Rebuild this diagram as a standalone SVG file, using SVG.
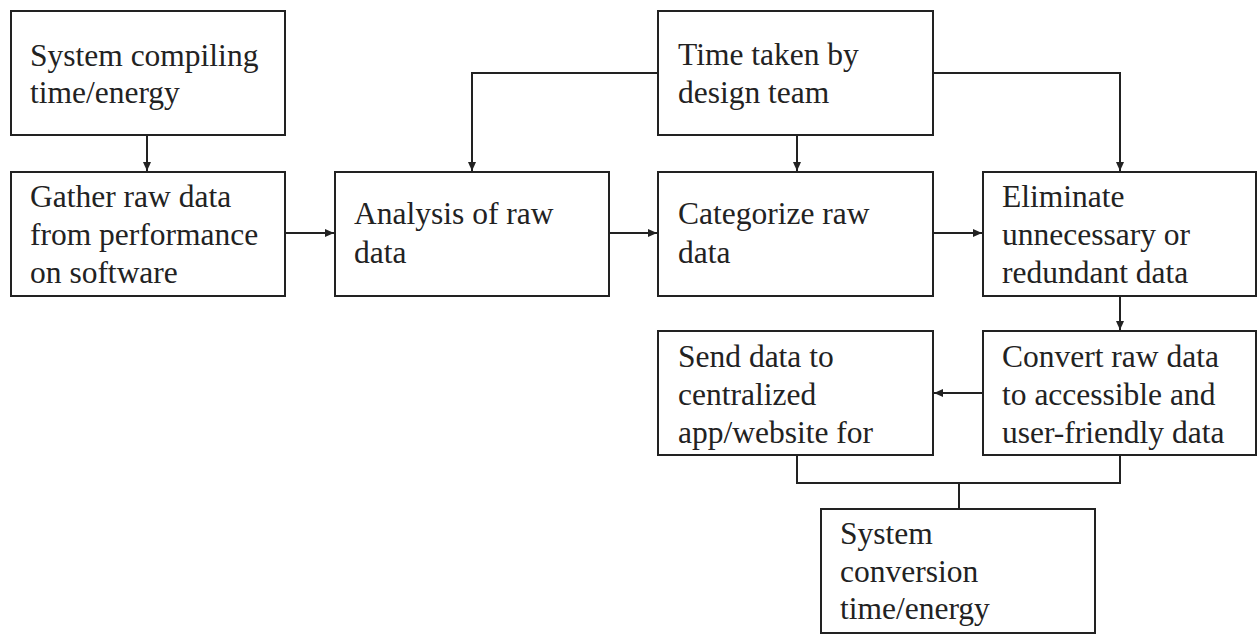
<svg xmlns="http://www.w3.org/2000/svg" width="1257" height="634" viewBox="0 0 1257 634">
  <style>
    .box { fill: #ffffff; stroke: #222222; stroke-width: 2; }
    .label { font-family: "Liberation Serif", "Times New Roman", serif; font-size: 31.5px; fill: #222222; }
    .wire { fill: none; stroke: #222222; stroke-width: 2; }
  </style>
  <defs>
    <marker id="arrow" markerUnits="userSpaceOnUse" markerWidth="10" markerHeight="10" refX="9" refY="4" orient="auto">
      <path d="M0,0 L9,4 L0,8 Z" fill="#222222"/>
    </marker>
  </defs>
  <rect width="1257" height="634" fill="#ffffff"/>

  <g id="connectors">
    <line class="wire" x1="147" y1="135" x2="147" y2="171" marker-end="url(#arrow)"/>
    <line class="wire" x1="285" y1="233" x2="334" y2="233" marker-end="url(#arrow)"/>
    <line class="wire" x1="609" y1="233" x2="657" y2="233" marker-end="url(#arrow)"/>
    <line class="wire" x1="933" y1="233" x2="982" y2="233" marker-end="url(#arrow)"/>
    <polyline class="wire" points="658,73 472,73 472,171" marker-end="url(#arrow)"/>
    <line class="wire" x1="797" y1="135" x2="797" y2="171" marker-end="url(#arrow)"/>
    <polyline class="wire" points="933,73 1120,73 1120,171" marker-end="url(#arrow)"/>
    <line class="wire" x1="1120" y1="296" x2="1120" y2="330" marker-end="url(#arrow)"/>
    <line class="wire" x1="983" y1="393" x2="934" y2="393" marker-end="url(#arrow)"/>
    <polyline class="wire" points="797,455 797,483 1120,483 1120,455"/>
    <line class="wire" x1="959" y1="483" x2="959" y2="509"/>
  </g>

  <g id="system-compiling">
    <rect class="box" x="11" y="11" width="274" height="124"/>
    <text class="label" x="30"><tspan x="30" y="66">System compiling</tspan><tspan x="30" y="103">time/energy</tspan></text>
  </g>

  <g id="gather-raw-data">
    <rect class="box" x="11" y="172" width="274" height="124"/>
    <text class="label"><tspan x="30" y="207">Gather raw data</tspan><tspan x="30" y="245">from performance</tspan><tspan x="30" y="283">on software</tspan></text>
  </g>

  <g id="analysis">
    <rect class="box" x="335" y="172" width="274" height="124"/>
    <text class="label"><tspan x="354" y="224">Analysis of raw</tspan><tspan x="354" y="263">data</tspan></text>
  </g>

  <g id="design-team-time">
    <rect class="box" x="658" y="11" width="275" height="124"/>
    <text class="label"><tspan x="678" y="65">Time taken by</tspan><tspan x="678" y="103">design team</tspan></text>
  </g>

  <g id="categorize">
    <rect class="box" x="658" y="172" width="275" height="124"/>
    <text class="label"><tspan x="678" y="224">Categorize raw</tspan><tspan x="678" y="263">data</tspan></text>
  </g>

  <g id="eliminate">
    <rect class="box" x="983" y="172" width="273" height="124"/>
    <text class="label"><tspan x="1002" y="207">Eliminate</tspan><tspan x="1002" y="245">unnecessary or</tspan><tspan x="1002" y="283">redundant data</tspan></text>
  </g>

  <g id="send-data">
    <rect class="box" x="658" y="331" width="275" height="124"/>
    <text class="label"><tspan x="678" y="367">Send data to</tspan><tspan x="678" y="405">centralized</tspan><tspan x="678" y="443">app/website for</tspan></text>
  </g>

  <g id="convert">
    <rect class="box" x="983" y="331" width="273" height="124"/>
    <text class="label"><tspan x="1002" y="367">Convert raw data</tspan><tspan x="1002" y="405">to accessible and</tspan><tspan x="1002" y="443">user-friendly data</tspan></text>
  </g>

  <g id="system-conversion">
    <rect class="box" x="821" y="509" width="274" height="124"/>
    <text class="label"><tspan x="840" y="544">System</tspan><tspan x="840" y="582">conversion</tspan><tspan x="840" y="619">time/energy</tspan></text>
  </g>
</svg>
